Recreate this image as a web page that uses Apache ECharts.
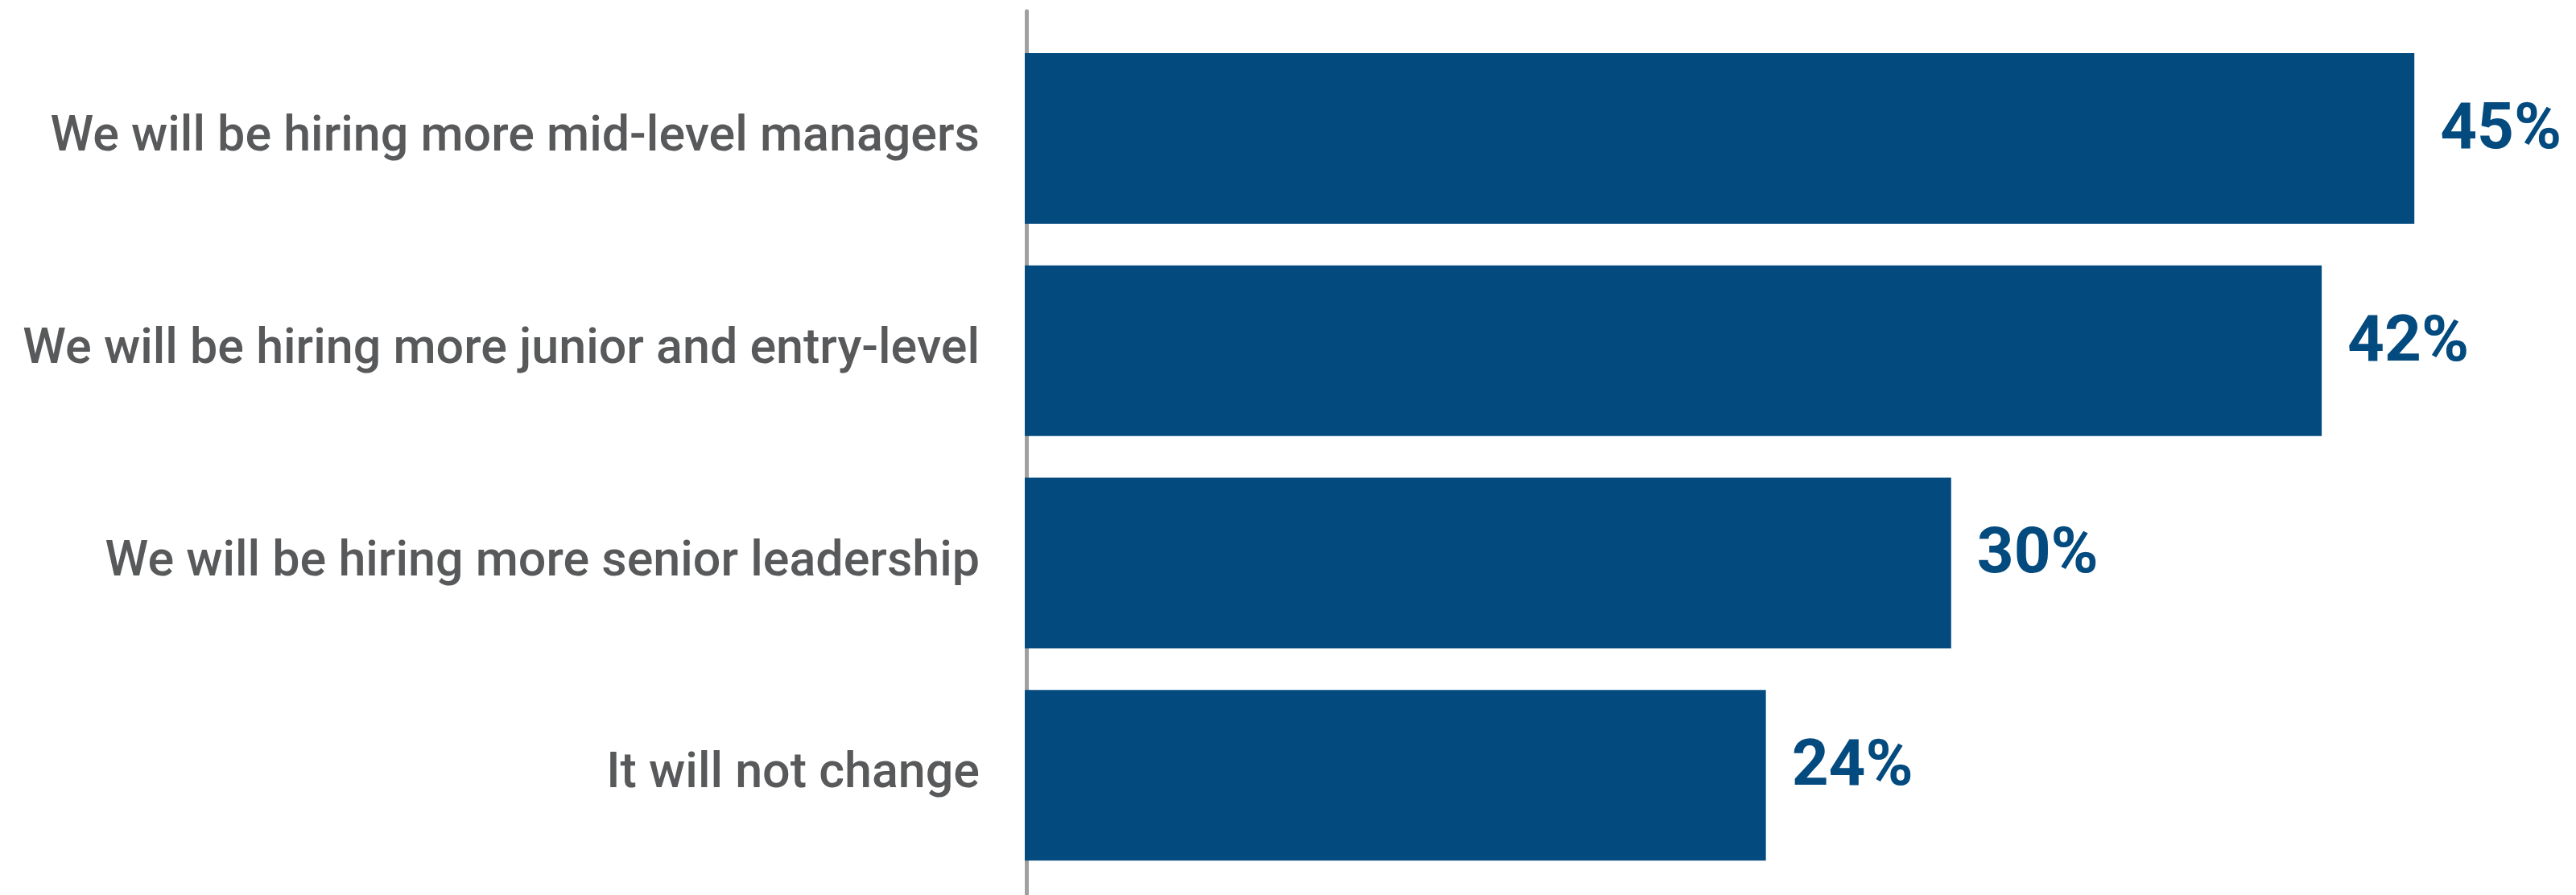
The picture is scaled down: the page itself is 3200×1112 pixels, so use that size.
<!DOCTYPE html>
<html>
<head>
<meta charset="utf-8">
<script src="https://cdn.jsdelivr.net/npm/echarts@6/dist/echarts.min.js"></script>
<style>
  html, body { margin: 0; padding: 0; background: #ffffff; }
  #chart { width: 3200px; height: 1112px; }
</style>
</head>
<body>
<div id="chart"></div>
<script>
// Survey answers, listed top to bottom
const categories = [
  'We will be hiring more mid-level managers',
  'We will be hiring more junior and entry-level',
  'We will be hiring more senior leadership',
  'It will not change'
];
// Share of respondents (%)
const shares = [45, 42, 30, 24];

const BAR_COLOR = '#034a7e';
const TEXT_GRAY = '#58595b';

const chart = echarts.init(document.getElementById('chart'));
chart.setOption({
  backgroundColor: '#ffffff',
  animation: false,
  grid: [
    { left: 1273, right: 9, top: 40, bottom: 17, containLabel: false },
    // full-height grid that only carries the vertical baseline
    { left: 1275.5, right: 9, top: 14, bottom: 0, containLabel: false }
  ],
  xAxis: [
    { gridIndex: 0, type: 'value', min: 0, max: 50, show: false },
    { gridIndex: 1, type: 'value', min: 0, max: 50, show: false }
  ],
  yAxis: [
    {
      gridIndex: 0,
      type: 'category',
      data: categories,
      inverse: true,
      axisLine: { show: false },
      axisTick: { show: false },
      axisLabel: {
        margin: 56,
        color: TEXT_GRAY,
        fontFamily: 'Roboto, "Liberation Sans", sans-serif',
        fontWeight: 500,
        fontSize: 61
      }
    },
    {
      gridIndex: 1,
      type: 'value',
      min: 0,
      max: 1,
      axisLine: { show: true, lineStyle: { color: '#a0a0a0', width: 5 } },
      axisTick: { show: false },
      axisLabel: { show: false },
      splitLine: { show: false }
    }
  ],
  series: [{
    type: 'bar',
    xAxisIndex: 0,
    yAxisIndex: 0,
    data: shares,
    barWidth: 212,
    itemStyle: { color: BAR_COLOR },
    label: {
      show: true,
      position: 'right',
      distance: 32,
      offset: [0, -8],
      formatter: '{c}%',
      color: BAR_COLOR,
      fontFamily: 'Roboto, "Liberation Sans", sans-serif',
      fontWeight: 'bold',
      fontSize: 80
    }
  }]
});
</script>
</body>
</html>
